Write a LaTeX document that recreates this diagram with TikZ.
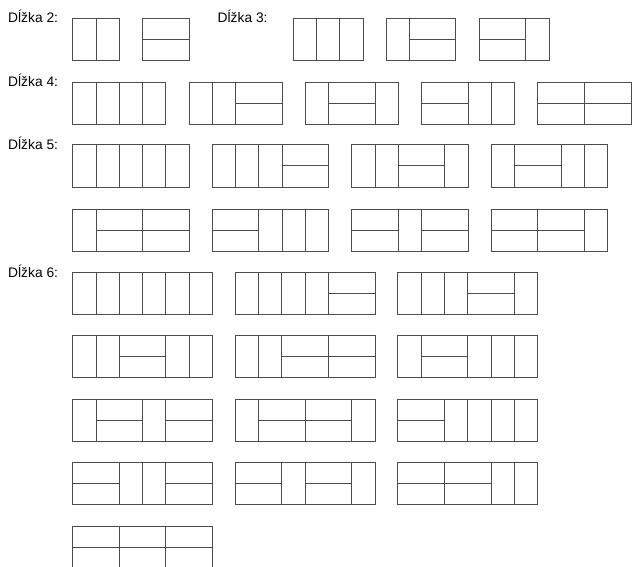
\documentclass[tikz,border=0pt]{standalone}
\usepackage{fontspec}
\setmainfont{Liberation Sans}
\newcommand{\uw}{23.3}
\newcommand{\uh}{42}
% one 2 x n board: V = vertical domino, H = two horizontal ones
\newcommand{\tiling}[3]{%
  \xdef\tpos{0}%
  \foreach \p in {#3}{%
    \pgfmathsetmacro\tx{#1+\tpos*\uw}%
    \if\p H%
      \draw[tile] (\tx,#2+0.5*\uh) -- ++(2*\uw,0);
      \pgfmathsetmacro\tnew{\tpos+2}%
    \else
      \pgfmathsetmacro\tnew{\tpos+1}%
    \fi
    \xdef\tpos{\tnew}%
    \pgfmathsetmacro\tx{#1+\tpos*\uw}%
    \draw[tile] (\tx,#2) -- ++(0,\uh);
  }%
  \draw[tile] (#1,#2) rectangle ++(\tpos*\uw,\uh);
}

\begin{document}
\begin{tikzpicture}[x=1pt,y=-1pt,
  tile/.style={draw=black!70,line width=1pt},
  lab/.style={anchor=base west,inner sep=0pt,font=\fontsize{13.8}{16}\selectfont}]
\useasboundingbox (0,0) rectangle (632,567);
\node (l2) [lab] at (8,22.5) {Dĺžka 2:};
\node (l3) [lab] at (217.5,22.5) {Dĺžka 3:};
\node (l4) [lab] at (8,87) {Dĺžka 4:};
\node (l5) [lab] at (8,149.5) {Dĺžka 5:};
\node (l6) [lab] at (8,277) {Dĺžka 6:};
% length 2 and 3
\tiling{72.7}{18.3}{V,V}
\tiling{142.7}{18.3}{H}
\tiling{293.3}{18.3}{V,V,V}
\tiling{386}{18.3}{V,H}
\tiling{479.3}{18.3}{H,V}
% length 4
\tiling{72.7}{82.3}{V,V,V,V}
\tiling{189}{82.3}{V,V,H}
\tiling{305.3}{82.3}{V,H,V}
\tiling{421.6}{82.3}{H,V,V}
\tiling{537.9}{82.3}{H,H}
% length 5
\tiling{72.7}{145}{V,V,V,V,V}
\tiling{212.2}{145}{V,V,V,H}
\tiling{351.7}{145}{V,V,H,V}
\tiling{491.2}{145}{V,H,V,V}
\tiling{72.7}{209}{V,H,H}
\tiling{212.2}{209}{H,V,V,V}
\tiling{351.7}{209}{H,V,H}
\tiling{491.2}{209}{H,H,V}
% length 6
\tiling{72.7}{272.3}{V,V,V,V,V,V}
\tiling{235.3}{272.3}{V,V,V,V,H}
\tiling{397.9}{272.3}{V,V,V,H,V}
\tiling{72.7}{335.8}{V,V,H,V,V}
\tiling{235.3}{335.8}{V,V,H,H}
\tiling{397.9}{335.8}{V,H,V,V,V}
\tiling{72.7}{399.3}{V,H,V,H}
\tiling{235.3}{399.3}{V,H,H,V}
\tiling{397.9}{399.3}{H,V,V,V,V}
\tiling{72.7}{462.8}{H,V,V,H}
\tiling{235.3}{462.8}{H,V,H,V}
\tiling{397.9}{462.8}{H,H,V,V}
\tiling{72.7}{526.3}{H,H,H}
\end{tikzpicture}
\end{document}
